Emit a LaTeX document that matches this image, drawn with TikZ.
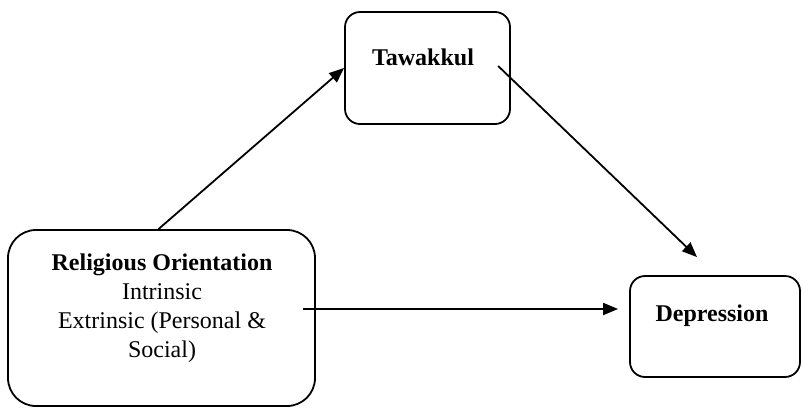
\documentclass[tikz,border=0pt]{standalone}
\usepackage{fontspec}
\setmainfont{Liberation Serif}
\usetikzlibrary{arrows.meta, positioning, calc}
\tikzset{
  varbox/.style={
    rectangle, draw=black, line width=1.8pt, rounded corners=#1,
    inner sep=0pt
  },
  varlabel/.style={
    align=center, font=\fontsize{24}{29}\selectfont, inner sep=0pt
  },
  arrow/.style={line width=1.8pt, -{Triangle[length=15pt,width=12pt]}},
}
\begin{document}
\begin{tikzpicture}[x=1pt,y=-1pt]
  \useasboundingbox (0,0) rectangle (802,408);

  % --- Cajas ---
  \node (relbox) [varbox=28pt, minimum width=307pt, minimum height=176pt] at (161.5,318) {};
  \node (tawbox) [varbox=15pt, minimum width=165pt, minimum height=112pt] at (427.5,68) {};
  \node (depbox) [varbox=15pt, minimum width=170pt, minimum height=101pt] at (715,326.5) {};

  % --- Textos ---
  \node (rel) [varlabel] at (162,308)
        {\textbf{Religious Orientation}\\Intrinsic\\Extrinsic (Personal \&\\Social)};
  \node (taw) [varlabel] at (423,57) {\textbf{Tawakkul}};
  \node (dep) [varlabel] at (712,316) {\textbf{Depression}};

  % --- Extremos de las flechas ---
  \coordinate (tawout) at ($(taw.east)+(24,9)$);
  \coordinate (depin)  at ($(depbox.north)+(-18,-18)$);
  \coordinate (relout) at ($(relbox.east)+(-13,-9)$);
  \coordinate (depleft) at ($(depbox.west)+(-11,-17.5)$);

  % --- Flechas ---
  \draw[arrow] ($(relbox.north)+(-3,0)$) -- (tawbox.west);
  \draw[arrow] (tawout) -- (depin);
  \draw[arrow] (relout) -- (depleft);

\end{tikzpicture}
\end{document}
